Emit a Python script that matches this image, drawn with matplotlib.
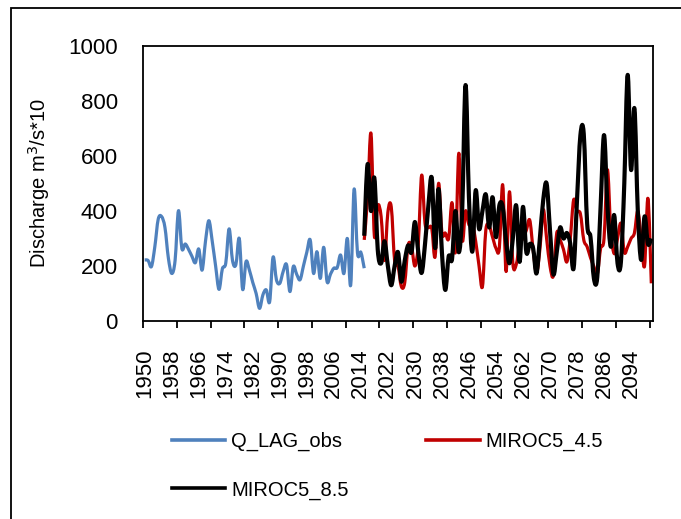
import matplotlib
matplotlib.use("Agg")
import matplotlib.pyplot as plt
import numpy as np
from matplotlib.path import Path
from matplotlib.patches import PathPatch, Rectangle
from matplotlib.lines import Line2D

plt.rcParams['font.family'] = ['Liberation Sans', 'DejaVu Sans']

# observed discharge 1950-2015
obs_years = list(range(1950, 2016))
obs = [222, 220, 198, 270, 370, 380, 340, 230, 173, 220,
       401, 264, 280, 260, 235, 212, 262, 185, 290, 365,
       290, 200, 115, 190, 210, 335, 220, 205, 300, 115,
       216, 185, 140, 100, 46, 95, 113, 70, 232, 150,
       137, 180, 205, 107, 198, 170, 150, 200, 250, 295,
       173, 252, 155, 268, 143, 170, 192, 194, 240, 173,
       300, 131, 479, 248, 250, 192]

# projections 2015-2100
proj_years = list(range(2015, 2101))
miroc45 = [295, 450, 682, 310, 420, 380, 220, 395, 415, 220,
           200, 125, 140, 275, 270, 200, 280, 530, 355, 340,
           337, 235, 500, 320, 320, 300, 430, 250, 610, 295,
           400, 350, 355, 290, 200, 125, 330, 345, 305, 265,
           265, 495, 180, 470, 210, 205, 280, 300, 330, 367,
           260, 175, 260, 405, 300, 200, 165, 320, 295, 260,
           215, 300, 440, 400, 390, 295, 270, 230, 198, 170,
           265, 300, 550, 330, 245, 300, 355, 250, 270, 300,
           320, 400, 300, 200, 446, 137]
miroc85 = [310, 570, 400, 520, 260, 210, 290, 200, 130, 200,
           250, 143, 220, 275, 250, 360, 250, 175, 280, 420,
           520, 265, 480, 250, 113, 235, 225, 400, 250, 400,
           858, 450, 252, 475, 335, 400, 460, 340, 450, 305,
           420, 415, 290, 210, 300, 420, 215, 415, 250, 280,
           265, 173, 300, 440, 500, 330, 170, 250, 340, 300,
           320, 282, 192, 440, 675, 680, 355, 305, 155, 160,
           420, 676, 420, 270, 385, 210, 215, 500, 895, 550,
           773, 400, 222, 380, 280, 300]

label_years = list(range(1950, 2095, 8))


def smooth(x, y):
    # bezier path through the points, like excel's smoothed line
    x = np.asarray(x, float)
    y = np.asarray(y, float)
    verts = [(x[0], y[0])]
    codes = [Path.MOVETO]
    n = len(x)
    for i in range(n - 1):
        p0 = i - 1 if i > 0 else i
        p3 = i + 2 if i + 2 < n else i + 1
        c1 = (x[i] + (x[i + 1] - x[p0]) / 6, y[i] + (y[i + 1] - y[p0]) / 6)
        c2 = (x[i + 1] - (x[p3] - x[i]) / 6, y[i + 1] - (y[p3] - y[i]) / 6)
        verts += [c1, c2, (x[i + 1], y[i + 1])]
        codes += [Path.CURVE4] * 3
    return Path(verts, codes)


fig = plt.figure(figsize=(6.81, 5.19), dpi=100)
ax = fig.add_axes([143 / 681, 1 - 321 / 519, 510 / 681, 275 / 519])

series = [(obs_years, obs, '#4F81BD', 2.3, 'Q_LAG_obs'),
          (proj_years, miroc45, '#C00000', 2.3, 'MIROC5_4.5'),
          (proj_years, miroc85, 'black', 3.0, 'MIROC5_8.5')]
handles = {}
for xs, ys, col, lw, name in series:
    ax.add_patch(PathPatch(smooth(xs, ys), facecolor='none', edgecolor=col,
                           lw=lw, joinstyle='round', capstyle='butt'))
    handles[name] = Line2D([], [], color=col, lw=2.6, label=name)

ax.set_xlim(1949.5, 2100.5)
ax.set_ylim(0, 1000)
ax.set_yticks(range(0, 1001, 200))
ax.tick_params(axis='y', length=0, pad=18, labelsize=16)

ax.set_xticks(np.arange(1949.5, 2100, 10))
ax.set_xticks(label_years, minor=True)
ax.set_xticklabels(label_years, minor=True, rotation=90)
ax.tick_params(axis='x', which='major', length=5, width=1.3, direction='out', labelbottom=False)
ax.tick_params(axis='x', which='minor', length=0, pad=20, labelsize=16)

for s in ax.spines.values():
    s.set_linewidth(1.3)

ax.set_ylabel('Discharge m$^3$/s*10', fontsize=14.5)
ax.yaxis.set_label_coords(-0.178, 0.5)

# column-major order so the rows read obs, 4.5 / 8.5
order = ['Q_LAG_obs', 'MIROC5_8.5', 'MIROC5_4.5']
fig.legend(handles=[handles[k] for k in order], ncol=2, loc='upper left',
           bbox_to_anchor=(172 / 681, 1 - 432 / 519),
           frameon=False, fontsize=14.5, handlelength=2.65, handletextpad=0.3,
           columnspacing=3.85, labelspacing=1.45, borderpad=0, borderaxespad=0)

fig.add_artist(Rectangle((11 / 681, -0.1), 1.2, 1.1 - 8 / 519, transform=fig.transFigure,
                         fill=False, lw=1.3, edgecolor='black', clip_on=False))

fig.savefig('out.png', dpi=100)
